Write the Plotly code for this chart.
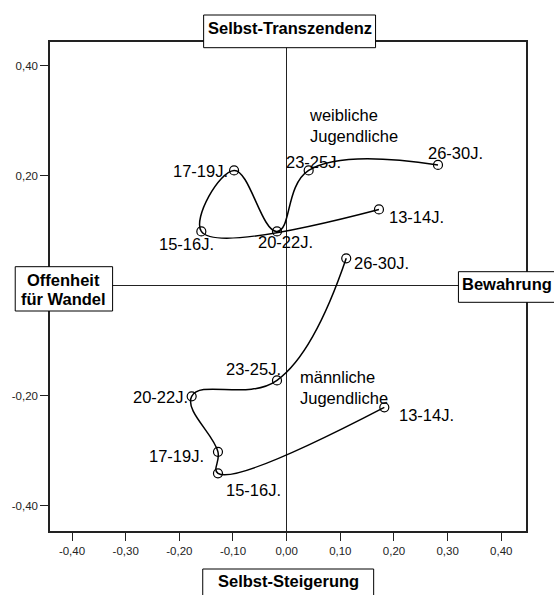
import plotly.graph_objects as go

# Age groups (in order of the trajectory)
ages = ["13-14J.", "15-16J.", "17-19J.", "20-22J.", "23-25J.", "26-30J."]

# Female adolescents: coordinates on the two value dimensions
fem_x = [0.172, -0.159, -0.098, -0.018, 0.041, 0.282]
fem_y = [0.139, 0.099, 0.210, 0.099, 0.210, 0.220]

# Male adolescents
mal_x = [0.182, -0.128, -0.128, -0.177, -0.018, 0.111]
mal_y = [-0.221, -0.341, -0.302, -0.201, -0.172, 0.050]

# Axis ticks
x_ticks = [-0.4, -0.3, -0.2, -0.1, 0.0, 0.1, 0.2, 0.3, 0.4]
x_ticktext = ["-0,40", "-0,30", "-0,20", "-0,10", "0,00", "0,10", "0,20", "0,30", "0,40"]
y_ticks = [0.4, 0.2, -0.2, -0.4]
y_ticktext = ["0,40", "0,20", "-0,20", "-0,40"]

FONT = "Liberation Sans, Arial, sans-serif"
W, H = 554, 595
ML, MR, MT, MB = 47, 28, 42, 64
PW, PH = W - ML - MR, H - MT - MB


def px(xp):
    return (xp - ML) / PW


def py(yp):
    return (H - MB - yp) / PH


fig = go.Figure()

for xs, ys in [(fem_x, fem_y), (mal_x, mal_y)]:
    fig.add_trace(go.Scatter(
        x=xs, y=ys, mode="lines",
        line=dict(color="black", width=1.5, shape="spline", smoothing=1.2),
        hoverinfo="skip", showlegend=False,
    ))
    fig.add_trace(go.Scatter(
        x=xs, y=ys, mode="markers",
        marker=dict(symbol="circle-open", size=9, color="black", line=dict(width=1.2)),
        hoverinfo="skip", showlegend=False,
    ))

# label placement per point: (xanchor, xshift, yshift)
fem_place = [("left", 8, -8), ("center", -15, -13), ("right", -4, -1),
             ("center", 8, -11), ("center", 5, 8), ("center", 18, 12)]
mal_place = [("left", 13, -8), ("left", 6, -17), ("right", -12, -4),
             ("right", -2, -1), ("right", 6, 11), ("left", 6, -5)]

for xs, ys, place in [(fem_x, fem_y, fem_place), (mal_x, mal_y, mal_place)]:
    for lab, xv, yv, (anc, dx, dy) in zip(ages, xs, ys, place):
        fig.add_annotation(x=xv, y=yv, text=lab, showarrow=False,
                           xanchor=anc, yanchor="middle", xshift=dx, yshift=dy,
                           font=dict(family=FONT, size=16.5, color="black"))

fig.add_annotation(x=0.038, y=0.292, text="weibliche<br>Jugendliche", showarrow=False,
                   xanchor="left", yanchor="middle", align="left",
                   font=dict(family=FONT, size=16.5, color="black"))
fig.add_annotation(x=0.022, y=-0.185, text="männliche<br>Jugendliche", showarrow=False,
                   xanchor="left", yanchor="middle", align="left",
                   font=dict(family=FONT, size=16.5, color="black"))

# Pole boxes of the two value dimensions
boxes = [
    ((201.6, 15, 374.6, 47.7), ["Selbst-Transzendenz"], [28.5]),
    ((200.7, 569, 372.7, 600), ["Selbst-Steigerung"], [581]),
    ((12, 266.7, 110, 311), ["Offenheit", "für Wandel"], [279.5, 298.5]),
    ((458, 271.7, 562, 302.3), ["Bewahrung"], [284]),
]
for (x0, y0, x1, y1), lines, ys in boxes:
    fig.add_shape(type="rect", xref="paper", yref="paper",
                  x0=px(x0), x1=px(x1), y0=py(y1), y1=py(y0),
                  line=dict(color="black", width=1), fillcolor="white", layer="above")
    for t, yy in zip(lines, ys):
        fig.add_annotation(xref="paper", yref="paper", x=px((x0 + x1) / 2 if x1 < W else 507),
                           y=py(yy), text="<b>%s</b>" % t, showarrow=False,
                           xanchor="center", yanchor="middle",
                           font=dict(family=FONT, size=16.5, color="black"))

axis_common = dict(showgrid=False, zeroline=True, zerolinecolor="#222", zerolinewidth=1,
                   showline=True, linecolor="#222", linewidth=1.5, mirror=True,
                   ticks="outside", ticklen=8, tickcolor="#222", tickwidth=1,
                   tickfont=dict(family=FONT, size=11.5, color="#222"))

fig.update_xaxes(range=[-0.441, 0.446], tickvals=x_ticks, ticktext=x_ticktext, **axis_common)
fig.update_yaxes(range=[-0.446, 0.4436], tickvals=y_ticks, ticktext=y_ticktext, **axis_common)

fig.update_layout(width=W, height=H, margin=dict(l=ML, r=MR, t=MT, b=MB),
                  paper_bgcolor="white", plot_bgcolor="white")

fig.write_html("out.html")
